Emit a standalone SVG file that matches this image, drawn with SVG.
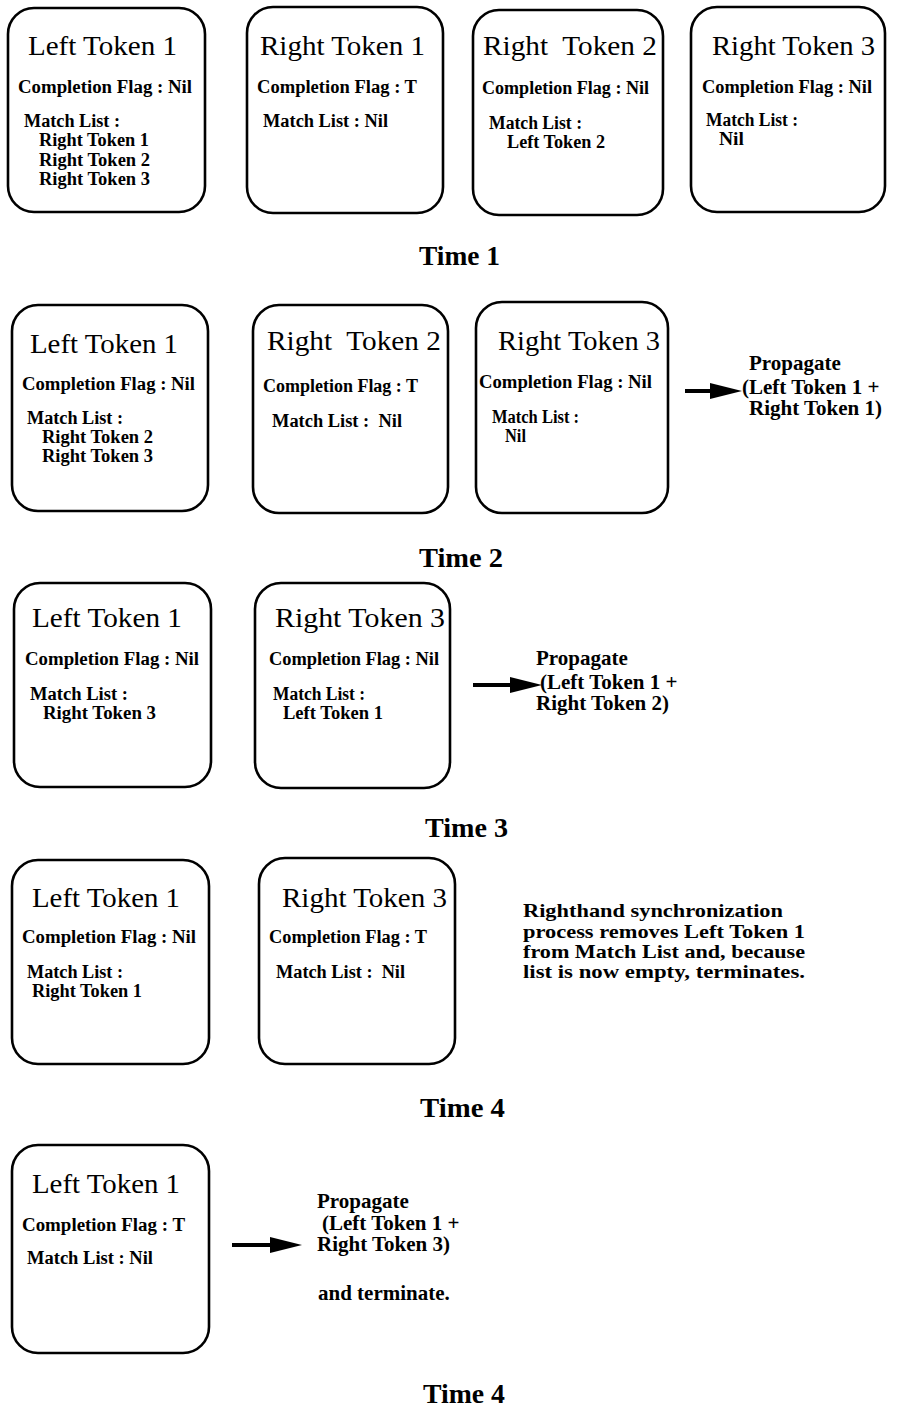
<svg xmlns="http://www.w3.org/2000/svg" width="905" height="1409" viewBox="0 0 905 1409">
<style>
.box{fill:none;stroke:#000;stroke-width:2.6}
.t{font-family:"Liberation Serif",serif;font-size:28px;fill:#000}
.b{font-family:"Liberation Serif",serif;font-weight:bold;font-size:18px;fill:#000}
.n{font-family:"Liberation Serif",serif;font-weight:bold;font-size:21px;fill:#000}
.m{font-family:"Liberation Serif",serif;font-weight:bold;font-size:19px;fill:#000}
.tm{font-family:"Liberation Serif",serif;font-weight:bold;font-size:28px;fill:#000}
.arr{stroke:#000;stroke-width:4;fill:none;marker-end:url(#ah)}
</style>
<defs>
<marker id="ah" markerUnits="userSpaceOnUse" markerWidth="32" markerHeight="16" viewBox="0 0 32 16" refX="4" refY="8" orient="auto">
<path d="M0,0 L32,8 L0,16 z" fill="#000"/>
</marker>
</defs>
<rect width="905" height="1409" fill="#fff"/>

<!-- Time 1 -->
<g id="t1-left1">
<rect class="box" x="8" y="8" width="197" height="204" rx="26"/>
<text class="t" x="28" y="55" textLength="149" lengthAdjust="spacingAndGlyphs">Left Token 1</text>
<text class="b" x="18" y="93" textLength="174" lengthAdjust="spacingAndGlyphs">Completion Flag : Nil</text>
<text class="b" x="24" y="127" textLength="96" lengthAdjust="spacingAndGlyphs">Match List :</text>
<text class="b" x="39" y="146" textLength="110" lengthAdjust="spacingAndGlyphs">Right Token 1</text>
<text class="b" x="39" y="166" textLength="111" lengthAdjust="spacingAndGlyphs">Right Token 2</text>
<text class="b" x="39" y="185" textLength="111" lengthAdjust="spacingAndGlyphs">Right Token 3</text>
</g>
<g id="t1-right1">
<rect class="box" x="247" y="7" width="196" height="206" rx="26"/>
<text class="t" x="260" y="55" textLength="165" lengthAdjust="spacingAndGlyphs">Right Token 1</text>
<text class="b" x="257" y="93" textLength="160" lengthAdjust="spacingAndGlyphs">Completion Flag : T</text>
<text class="b" x="263" y="127" textLength="125" lengthAdjust="spacingAndGlyphs">Match List : Nil</text>
</g>
<g id="t1-right2">
<rect class="box" x="473" y="10" width="190" height="205" rx="26"/>
<text class="t" x="483" y="55" textLength="174" lengthAdjust="spacingAndGlyphs" xml:space="preserve">Right  Token 2</text>
<text class="b" x="482" y="94" textLength="167" lengthAdjust="spacingAndGlyphs">Completion Flag : Nil</text>
<text class="b" x="489" y="129" textLength="93" lengthAdjust="spacingAndGlyphs">Match List :</text>
<text class="b" x="507" y="148" textLength="98" lengthAdjust="spacingAndGlyphs">Left Token 2</text>
</g>
<g id="t1-right3">
<rect class="box" x="691" y="7" width="194" height="205" rx="26"/>
<text class="t" x="712" y="55" textLength="163" lengthAdjust="spacingAndGlyphs">Right Token 3</text>
<text class="b" x="702" y="93" textLength="170" lengthAdjust="spacingAndGlyphs">Completion Flag : Nil</text>
<text class="b" x="706" y="126" textLength="92" lengthAdjust="spacingAndGlyphs">Match List :</text>
<text class="b" x="719" y="145" textLength="25" lengthAdjust="spacingAndGlyphs">Nil</text>
</g>
<text id="label-time1" class="tm" x="419" y="265" textLength="81" lengthAdjust="spacingAndGlyphs">Time 1</text>

<!-- Time 2 -->
<g id="t2-left1">
<rect class="box" x="12" y="305" width="196" height="206" rx="26"/>
<text class="t" x="30" y="353" textLength="148" lengthAdjust="spacingAndGlyphs">Left Token 1</text>
<text class="b" x="22" y="390" textLength="173" lengthAdjust="spacingAndGlyphs">Completion Flag : Nil</text>
<text class="b" x="27" y="424" textLength="96" lengthAdjust="spacingAndGlyphs">Match List :</text>
<text class="b" x="42" y="443" textLength="111" lengthAdjust="spacingAndGlyphs">Right Token 2</text>
<text class="b" x="42" y="462" textLength="111" lengthAdjust="spacingAndGlyphs">Right Token 3</text>
</g>
<g id="t2-right2">
<rect class="box" x="253" y="305" width="195" height="208" rx="26"/>
<text class="t" x="267" y="350" textLength="174" lengthAdjust="spacingAndGlyphs" xml:space="preserve">Right  Token 2</text>
<text class="b" x="263" y="392" textLength="155" lengthAdjust="spacingAndGlyphs">Completion Flag : T</text>
<text class="b" x="272" y="427" textLength="130" lengthAdjust="spacingAndGlyphs" xml:space="preserve">Match List :  Nil</text>
</g>
<g id="t2-right3">
<rect class="box" x="476" y="302" width="192" height="211" rx="26"/>
<text class="t" x="498" y="350" textLength="162" lengthAdjust="spacingAndGlyphs">Right Token 3</text>
<text class="b" x="479" y="388" textLength="173" lengthAdjust="spacingAndGlyphs">Completion Flag : Nil</text>
<text class="b" x="492" y="423" textLength="87" lengthAdjust="spacingAndGlyphs">Match List :</text>
<text class="b" x="505" y="442" textLength="21" lengthAdjust="spacingAndGlyphs">Nil</text>
</g>
<g id="t2-propagate">
<text class="n" x="749" y="370">Propagate</text>
<text class="n" x="742" y="394">(Left Token 1 +</text>
<text class="n" x="749" y="415">Right Token 1)</text>
</g>
<text id="label-time2" class="tm" x="419" y="567" textLength="84" lengthAdjust="spacingAndGlyphs">Time 2</text>

<!-- Time 3 -->
<g id="t3-left1">
<rect class="box" x="14" y="583" width="197" height="204" rx="26"/>
<text class="t" x="32" y="627" textLength="150" lengthAdjust="spacingAndGlyphs">Left Token 1</text>
<text class="b" x="25" y="665" textLength="174" lengthAdjust="spacingAndGlyphs">Completion Flag : Nil</text>
<text class="b" x="30" y="700" textLength="98" lengthAdjust="spacingAndGlyphs">Match List :</text>
<text class="b" x="43" y="719" textLength="113" lengthAdjust="spacingAndGlyphs">Right Token 3</text>
</g>
<g id="t3-right3">
<rect class="box" x="255" y="583" width="195" height="205" rx="26"/>
<text class="t" x="275" y="627" textLength="170" lengthAdjust="spacingAndGlyphs">Right Token 3</text>
<text class="b" x="269" y="665" textLength="170" lengthAdjust="spacingAndGlyphs">Completion Flag : Nil</text>
<text class="b" x="273" y="700" textLength="92" lengthAdjust="spacingAndGlyphs">Match List :</text>
<text class="b" x="283" y="719" textLength="100" lengthAdjust="spacingAndGlyphs">Left Token 1</text>
</g>
<g id="t3-propagate">
<text class="n" x="536" y="665">Propagate</text>
<text class="n" x="540" y="689">(Left Token 1 +</text>
<text class="n" x="536" y="710">Right Token 2)</text>
</g>
<text id="label-time3" class="tm" x="425" y="837" textLength="83" lengthAdjust="spacingAndGlyphs">Time 3</text>

<!-- Time 4 -->
<g id="t4-left1">
<rect class="box" x="12" y="860" width="197" height="204" rx="26"/>
<text class="t" x="32" y="907" textLength="148" lengthAdjust="spacingAndGlyphs">Left Token 1</text>
<text class="b" x="22" y="943" textLength="174" lengthAdjust="spacingAndGlyphs">Completion Flag : Nil</text>
<text class="b" x="27" y="978" textLength="96" lengthAdjust="spacingAndGlyphs">Match List :</text>
<text class="b" x="32" y="997" textLength="110" lengthAdjust="spacingAndGlyphs">Right Token 1</text>
</g>
<g id="t4-right3">
<rect class="box" x="259" y="858" width="196" height="206" rx="26"/>
<text class="t" x="282" y="907" textLength="165" lengthAdjust="spacingAndGlyphs">Right Token 3</text>
<text class="b" x="269" y="943" textLength="158" lengthAdjust="spacingAndGlyphs">Completion Flag : T</text>
<text class="b" x="276" y="978" textLength="129" lengthAdjust="spacingAndGlyphs" xml:space="preserve">Match List :  Nil</text>
</g>
<g id="t4-note">
<text class="m" x="523" y="917" textLength="260" lengthAdjust="spacingAndGlyphs">Righthand synchronization</text>
<text class="m" x="523" y="938" textLength="282" lengthAdjust="spacingAndGlyphs">process removes Left Token 1</text>
<text class="m" x="523" y="958" textLength="282" lengthAdjust="spacingAndGlyphs">from Match List and, because</text>
<text class="m" x="523" y="978" textLength="282" lengthAdjust="spacingAndGlyphs">list is now empty, terminates.</text>
</g>
<text id="label-time4a" class="tm" x="420" y="1117" textLength="85" lengthAdjust="spacingAndGlyphs">Time 4</text>

<!-- Time 5 -->
<g id="t5-left1">
<rect class="box" x="12" y="1145" width="197" height="208" rx="26"/>
<text class="t" x="32" y="1193" textLength="148" lengthAdjust="spacingAndGlyphs">Left Token 1</text>
<text class="b" x="22" y="1231" textLength="163" lengthAdjust="spacingAndGlyphs">Completion Flag : T</text>
<text class="b" x="27" y="1264" textLength="126" lengthAdjust="spacingAndGlyphs">Match List : Nil</text>
</g>
<g id="t5-propagate">
<text class="n" x="317" y="1208">Propagate</text>
<text class="n" x="322" y="1230">(Left Token 1 +</text>
<text class="n" x="317" y="1251">Right Token 3)</text>
<text class="n" x="318" y="1300">and terminate.</text>
</g>
<text id="label-time4b" class="tm" x="423" y="1403" textLength="82" lengthAdjust="spacingAndGlyphs">Time 4</text>

<g id="connectors">
<line class="arr" x1="685" y1="391" x2="714" y2="391"/>
<line class="arr" x1="473" y1="685" x2="514" y2="685"/>
<line class="arr" x1="232" y1="1245" x2="274" y2="1245"/>
</g>
</svg>
